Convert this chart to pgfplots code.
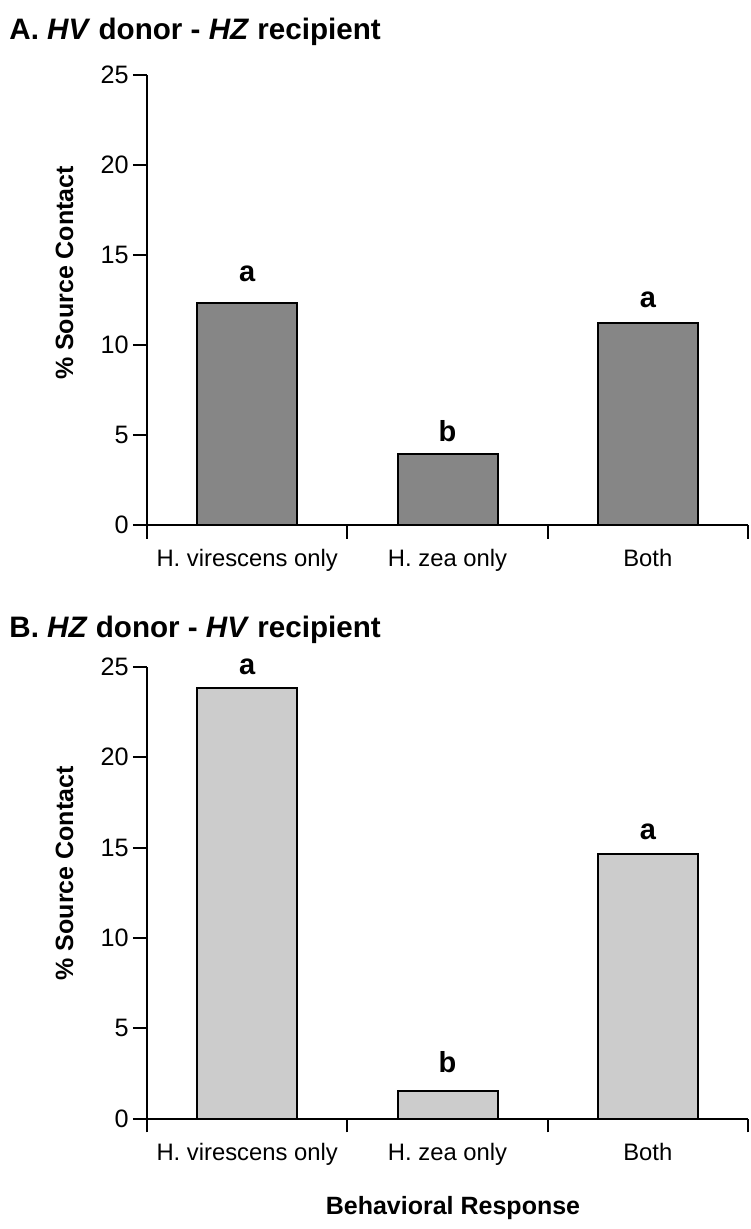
\documentclass[border=0pt]{standalone}
\usepackage{pgfplots}
\pgfplotsset{compat=1.18}
\usepackage{fontspec}
\setmainfont{Liberation Sans}
\definecolor{barA}{RGB}{134,134,134}
\definecolor{barB}{RGB}{204,204,204}
\pgfplotsset{
  panel/.style={
    scale only axis,
    width=300.5pt,
    anchor=south west,
    axis x line=bottom,
    axis y line=left,
    axis line style={line width=1pt,-},
    every tick/.style={line width=1pt,black},
    tick align=outside,
    major tick length=7pt,
    xmin=-0.5, xmax=2.5,
    ymin=0, ymax=25,
    ytick={0,5,10,15,20,25},
    yticklabels={0,5,10,15,20,25},
    xtick={-0.5,0.5,1.5,2.5},
    x tick label as interval,
    xticklabels={H. virescens only,H. zea only,Both},
    xticklabel style={anchor=base, yshift=-14pt, font=\fontsize{11.9}{14}\selectfont},
    yticklabel style={anchor=east, inner sep=0pt, xshift=-2pt, font=\fontsize{12.6}{15}\selectfont},
    /pgf/number format/assume math mode=true,
    clip=false,
    ylabel={\% Source Contact},
    ylabel style={rotate=0, anchor=base, font=\fontsize{12.5}{15}\bfseries},
  },
  letters/.style={
    draw=none,
    nodes near coords,
    point meta=explicit symbolic,
    nodes near coords style={anchor=base, inner sep=0pt, font=\fontsize{14.5}{17}\bfseries},
  },
}
\begin{document}
\begin{tikzpicture}
\path[use as bounding box] (0,0) rectangle (375pt,614.5pt);
\node[anchor=base west, inner sep=0pt, font=\fontsize{14.8}{18}\bfseries] at (4.5pt,594.5pt) {A. \textit{HV} donor - \textit{HZ} recipient};
\node[anchor=base west, inner sep=0pt, font=\fontsize{14.8}{18}\bfseries] at (4.5pt,295.65pt) {B. \textit{HZ} donor - \textit{HV} recipient};
\begin{axis}[panel, at={(73.5pt,352pt)}, height=225pt,
  ylabel style={at={(axis description cs:-0.1231,0.56)}}]
\addplot[ybar, bar width=50pt, fill=barA, draw=black, line width=1pt] coordinates {(0,12.35) (1,3.93) (2,11.24)};
\addplot[letters] coordinates {(0,13.53) [a] (1,4.63) [b] (2,12.06) [a]};
\end{axis}
\begin{axis}[panel, at={(73.5pt,55.25pt)}, height=225.8pt,
  ylabel style={at={(axis description cs:-0.1231,0.543)}},
  xlabel={Behavioral Response},
  xlabel style={at={(axis description cs:0.5,0)}, anchor=base, yshift=-47.75pt, xshift=2.75pt, font=\fontsize{12.5}{15}\bfseries}]
\addplot[ybar, bar width=50pt, fill=barB, draw=black, line width=1pt] coordinates {(0,23.83) (1,1.53) (2,14.63)};
\addplot[letters] coordinates {(0,24.59) [a] (1,2.52) [b] (2,15.43) [a]};
\end{axis}
\end{tikzpicture}
\end{document}
